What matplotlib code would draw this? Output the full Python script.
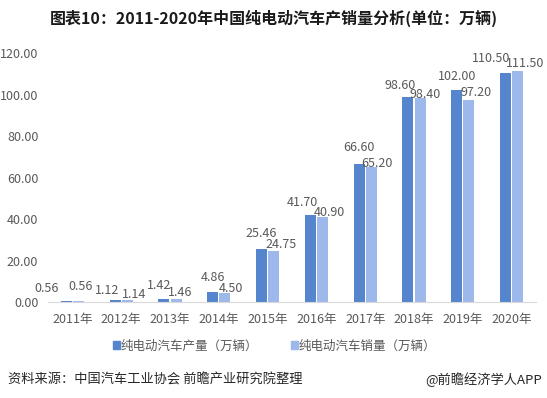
import matplotlib
matplotlib.use("Agg")
import matplotlib.pyplot as plt
from matplotlib.patches import Patch
import numpy as np

plt.rcParams["font.family"] = ["Noto Sans CJK SC", "DejaVu Sans"]

# data
years = [2011, 2012, 2013, 2014, 2015, 2016, 2017, 2018, 2019, 2020]
production = [0.56, 1.12, 1.42, 4.86, 25.46, 41.70, 66.60, 98.60, 102.00, 110.50]
sales = [0.56, 1.14, 1.46, 4.50, 24.75, 40.90, 65.20, 98.40, 97.20, 111.50]

# hand nudges of the value labels (pixels: dx, height above bar top)
prod_dx = [-20, -8, -5, 0, 0, -8, 0, -8, 0, -14]
prod_dy = [12, 9, 14, 14, 16, 13, 16, 12, 14, 14]
sales_dx = [2, 7, 4, 6, 7, 7, 6, 5, 7, 7]
sales_dy = [14, 5, 6, 4, 6, 5, 3, 3, 8, 7]

c_prod = "#5585CC"
c_sales = "#9DB8EA"
grey = "#595959"

fig = plt.figure(figsize=(5.47, 3.98), dpi=100)
ax = fig.add_axes([0.0878, 0.2412, 0.8922, 0.6256])

x = np.arange(len(years))
w = 0.225
off = 0.125
ax.bar(x - off, production, w, color=c_prod)
ax.bar(x + off, sales, w, color=c_sales)

for i in range(len(years)):
    ax.annotate(f"{production[i]:.2f}", (x[i] - off, production[i]),
                xytext=(prod_dx[i], prod_dy[i]), textcoords="offset pixels",
                ha="center", va="center", fontsize=9, color=grey)
    ax.annotate(f"{sales[i]:.2f}", (x[i] + off, sales[i]),
                xytext=(sales_dx[i], sales_dy[i]), textcoords="offset pixels",
                ha="center", va="center", fontsize=9, color=grey)

ax.set_xlim(-0.5, len(years) - 0.5)
ax.set_ylim(0, 120)
ax.set_yticks(range(0, 121, 20))
ax.set_yticklabels([f"{v:.2f}" for v in range(0, 121, 20)])
ax.set_xticks(x)
ax.set_xticklabels([f"{y}年" for y in years])
ax.tick_params(length=0, labelsize=9, colors=grey)
ax.tick_params(axis="x", pad=8)
ax.tick_params(axis="y", pad=7)
for s in ["top", "right", "left"]:
    ax.spines[s].set_visible(False)
ax.spines["bottom"].set_color("#D9D9D9")

handles = [Patch(color=c_prod), Patch(color=c_sales)]
fig.legend(handles, ["纯电动汽车产量（万辆）", "纯电动汽车销量（万辆）"],
           loc="center", bbox_to_anchor=(0.502, 0.131), ncol=2, frameon=False,
           fontsize=9, labelcolor=grey, handlelength=0.55, handleheight=0.55,
           handletextpad=0.1, columnspacing=2.6)

fig.text(0.5, 0.955, "图表10：2011-2020年中国纯电动汽车产销量分析(单位：万辆)",
         ha="center", va="center", fontsize=11.5, fontweight="bold", color="#1a1a1a")
fig.text(0.015, 0.045, "资料来源：中国汽车工业协会 前瞻产业研究院整理",
         ha="left", va="center", fontsize=9.5, color="#262626")
fig.text(0.99, 0.045, "@前瞻经济学人APP",
         ha="right", va="center", fontsize=9.5, color="#262626")

fig.savefig("out.png", dpi=100)
